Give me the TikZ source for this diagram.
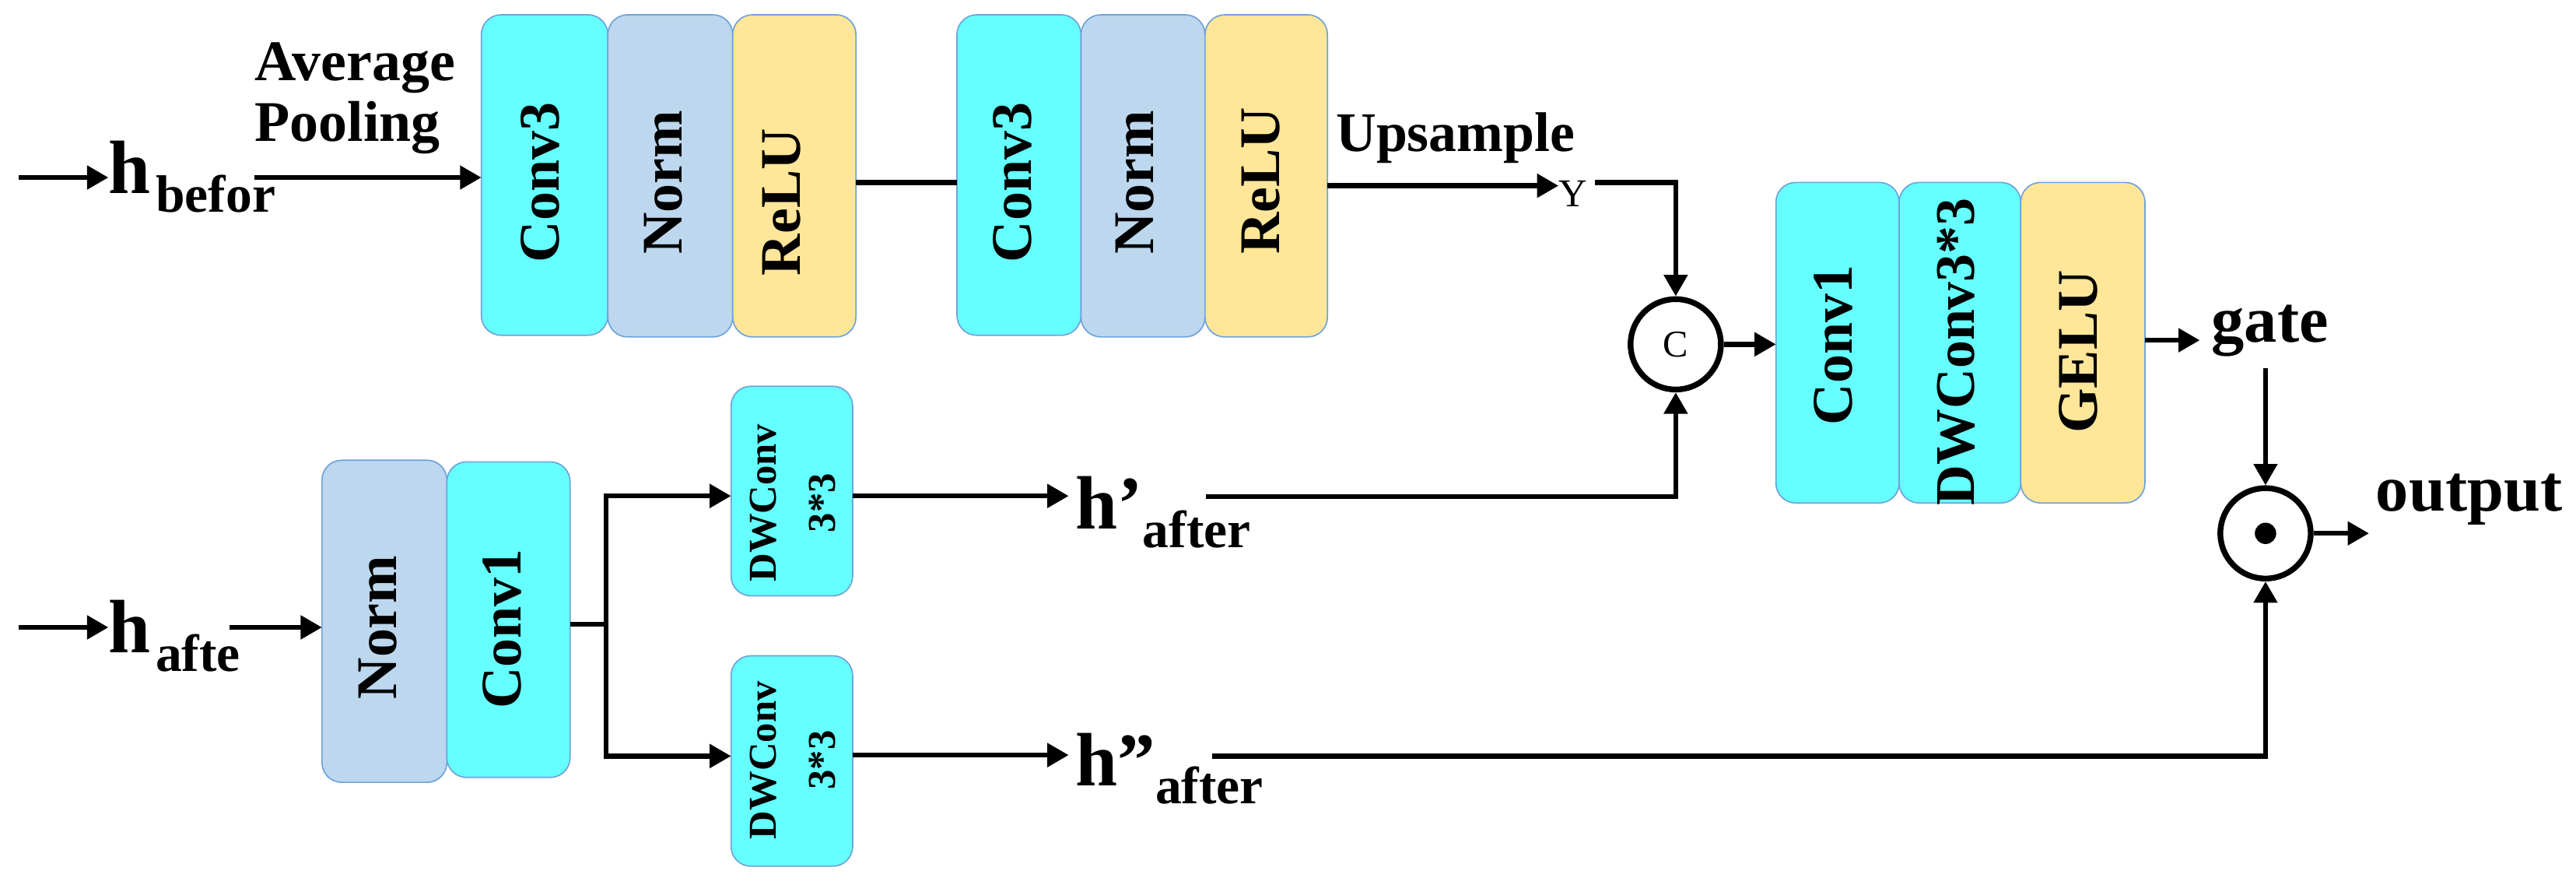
\documentclass[tikz,border=0pt]{standalone}
\usepackage{fontspec}
\setmainfont{Liberation Serif}
\usetikzlibrary{arrows.meta,calc}
\definecolor{cyanbox}{HTML}{66FFFF}
\definecolor{normbox}{HTML}{BDD7EE}
\definecolor{relubox}{HTML}{FFE699}
\definecolor{edgeblue}{HTML}{6FA3DA}
\begin{document}
\begin{tikzpicture}[x=1pt,y=-1pt,
  blk/.style={draw=edgeblue, line width=0.8pt, rounded corners=12pt, inner sep=0pt, outer sep=0pt, anchor=north west},
  lbl/.style={rotate=90, inner sep=0pt, font=\bfseries\fontsize{35}{35}\selectfont},
  arr/.style={line width=3pt, -{Triangle[length=13pt,width=14pt]}},
  ln/.style={line width=3pt},
  txt/.style={inner sep=0pt, anchor=base west},
  opc/.style={circle, draw, line width=3.5pt, minimum size=55pt, inner sep=0pt}]
\useasboundingbox (0,0) rectangle (1568,538);

% ---- top row, group 1
\node[blk, fill=cyanbox, minimum width=77pt, minimum height=195pt] (c3a) at (293,9) {};
\node[blk, fill=normbox, minimum width=76pt, minimum height=196pt] (n1) at (370,9) {};
\node[blk, fill=relubox, minimum width=75pt, minimum height=196pt] (r1) at (446,9) {};
% ---- top row, group 2
\node[blk, fill=cyanbox, minimum width=75.5pt, minimum height=195pt] (c3b) at (582.5,9) {};
\node[blk, fill=normbox, minimum width=75.5pt, minimum height=196pt] (n2) at (658,9) {};
\node[blk, fill=relubox, minimum width=74.5pt, minimum height=196pt] (r2) at (733.5,9) {};
% ---- group 3
\node[blk, fill=cyanbox, minimum width=75pt, minimum height=195pt] (cv) at (1081,111) {};
\node[blk, fill=cyanbox, minimum width=74pt, minimum height=195pt] (dw) at (1156,111) {};
\node[blk, fill=relubox, minimum width=75.6pt, minimum height=195pt] (ge) at (1230,111) {};
% ---- bottom
\node[blk, fill=normbox, minimum width=76pt, minimum height=196pt] (nb) at (196,280) {};
\node[blk, fill=cyanbox, minimum width=75pt, minimum height=192pt] (cb) at (272,281) {};
\node[blk, fill=cyanbox, minimum width=74pt, minimum height=127.5pt] (dw1) at (445,235) {};
\node[blk, fill=cyanbox, minimum width=74pt, minimum height=128pt] (dw2) at (445,399) {};

% ---- box labels
\node[lbl] (tc3a) at (329,111) {Conv3};
\node[lbl] (tn1) at (403.7,111) {Norm};
\node[lbl] (tr1) at (476,123) {ReLU};
\node[lbl] (tc3b) at (616.5,111) {Conv3};
\node[lbl] (tn2) at (691,111) {Norm};
\node[lbl] (tr2) at (767.6,110) {ReLU};
\node[lbl] (tcv) at (1116,210) {Conv1};
\node[lbl, font=\bfseries\fontsize{34}{34}\selectfont] (tdw) at (1190.6,214) {DWConv3*3};
\node[lbl] (tge) at (1265,214) {GELU};
\node[lbl] (tnb) at (230,381.7) {Norm};
\node[lbl] (tcb) at (305.7,382.7) {Conv1};
\node[lbl, align=center, font=\bfseries\fontsize{24}{36}\selectfont] (tdw1) at (482.4,306) {DWConv\\3*3};
\node[lbl, align=center, font=\bfseries\fontsize{24}{36}\selectfont] (tdw2) at (482.4,462.5) {DWConv\\3*3};

% ---- texts
\node[txt, font=\bfseries] (hb) at (66,117.6) {\fontsize{46}{46}\selectfont h\kern3pt\raisebox{-11.5pt}{\fontsize{32}{32}\selectfont befor}};
\node[txt, font=\bfseries] (ha) at (66,397) {\fontsize{46}{46}\selectfont h\kern3pt\raisebox{-11.6pt}{\fontsize{32}{32}\selectfont afte}};
\node[txt, font=\bfseries] (hp) at (654.5,321.7) {\fontsize{46}{46}\selectfont h’\raisebox{-11.3pt}{\fontsize{32}{32}\selectfont after}};
\node[txt, font=\bfseries] (hpp) at (654.5,478) {\fontsize{46}{46}\selectfont h”\raisebox{-11pt}{\fontsize{32}{32}\selectfont after}};
\node[txt, font=\bfseries] (avg) at (155,49) {\parbox[t]{200pt}{\fontsize{35}{37}\selectfont Average\\Pooling}};
\node[txt, font=\bfseries\fontsize{34}{34}\selectfont] (ups) at (813,92) {Upsample};
\node[inner sep=0pt, font=\fontsize{24}{24}\selectfont] (Y) at (957.5,118) {Y};
\node[txt, font=\bfseries\fontsize{40}{40}\selectfont] (gate) at (1346,208) {gate};
\node[txt, font=\bfseries\fontsize{40}{40}\selectfont] (out) at (1446,311) {output};

% ---- operators
\node[opc, font=\fontsize{23}{23}\selectfont] (cat) at (1020,209.5) {C};
\node[opc] (mul) at (1379,324.5) {};
\fill (mul.center) circle[radius=6.5pt];

% ---- free ends
\coordinate (inb) at (11.6,108);
\coordinate (hbout) at (155,108);
\coordinate (ina) at (11.6,381.7);
\coordinate (haout) at (139.5,381.7);
\coordinate (split) at (368.8,379.7);
\coordinate (yout) at (971,111);
\coordinate (hpout) at (734,302);
\coordinate (hppout) at (737.7,460);
\coordinate (gateout) at (1379,224);

% ---- connectors
\draw[arr] (inb) -- (inb -| hb.west);
\draw[arr] (hbout) -- (hbout -| c3a.west);
\draw[ln] (r1.east |- 0,111) -- (c3b.west |- 0,111);
\draw[arr] (r2.east |- 0,113) -- (Y.west |- 0,113);
\draw[arr] (yout) -| (cat.north);
\draw[arr] (cat.east) -- (cat.east -| cv.west);
\draw[arr] (ge.east |- 0,207) -- ([xshift=-7pt]gate.west |- 0,207);
\draw[arr] (gateout) -- (mul.north);
\draw[arr] (mul.east) -- ([xshift=-4pt]mul.east -| out.west);
\draw[arr] (ina) -- (ina -| ha.west);
\draw[arr] (haout) -- (haout -| nb.west);
\draw[ln] (cb.east |- split) -- (split);
\draw[arr] (split) |- ([yshift=-3pt]dw1.west);
\draw[arr] (split) |- ([yshift=3pt]dw2.west);
\draw[arr] ([yshift=-3pt]dw1.east) -- ([yshift=-3pt,xshift=-4pt]dw1.east -| hp.west);
\draw[arr] (hpout) -| (cat.south);
\draw[arr] ([yshift=3.6pt]dw2.east) -- ([yshift=3.6pt,xshift=-4pt]dw2.east -| hpp.west);
\draw[arr] (hppout) -| (mul.south);
\end{tikzpicture}
\end{document}
